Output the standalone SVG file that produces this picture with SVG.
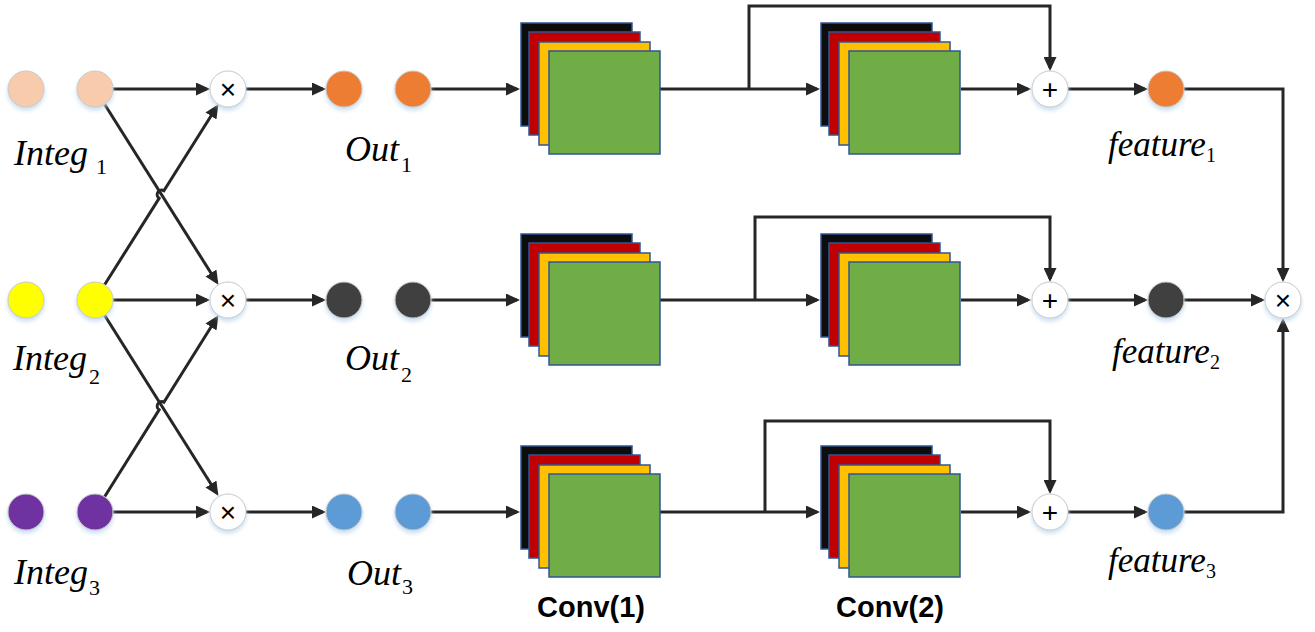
<svg xmlns="http://www.w3.org/2000/svg" xmlns:xlink="http://www.w3.org/1999/xlink" width="1315" height="632" viewBox="0 0 1315 632">
<style>
.ln{fill:none;stroke:#262626;stroke-width:3}
.ar{marker-end:url(#arr)}
.nd{stroke:#c9c9c9;stroke-width:1;filter:url(#sh)}
.op{fill:#ffffff}
.sym{font-family:"Liberation Sans",Arial,sans-serif;font-size:28px;fill:#000;text-anchor:middle}
.lab{font-family:"Liberation Serif","Times New Roman",serif;font-style:italic;font-size:36px;fill:#000}
.flab{font-family:"Liberation Serif","Times New Roman",serif;font-style:italic;font-size:35px;fill:#000}
.sub{font-family:"Liberation Serif","Times New Roman",serif;font-style:normal;font-size:22px;fill:#000}
.conv{font-family:"Liberation Sans",Arial,sans-serif;font-weight:bold;font-size:29px;fill:#000;text-anchor:middle}
.st{stroke:#2F5597;stroke-width:1.5}
</style>
<defs>
<marker id="arr" markerWidth="14" markerHeight="13" refX="11" refY="6.5" orient="auto" markerUnits="userSpaceOnUse">
<path d="M0,0 L14,6.5 L0,13 z" fill="#262626"/>
</marker>
<filter id="sh" x="-40%" y="-40%" width="180%" height="190%">
<feGaussianBlur in="SourceAlpha" stdDeviation="2"/>
<feOffset dy="3" result="b"/>
<feFlood flood-color="#bdd7ee" flood-opacity="0.8"/>
<feComposite in2="b" operator="in"/>
<feMerge><feMergeNode/><feMergeNode in="SourceGraphic"/></feMerge>
</filter>
<g id="stack">
<rect x="0" y="0" width="111" height="103" fill="#0D0D0D" class="st"/>
<rect x="8" y="9" width="111" height="103" fill="#C00000" class="st"/>
<rect x="18" y="19" width="111" height="103" fill="#FFC000" class="st"/>
<rect x="28" y="28" width="111" height="103" fill="#70AD47" class="st"/>
</g>
</defs>
<rect width="1315" height="632" fill="#ffffff"/>

<g id="connectors">
<!-- row 1 -->
<line class="ln ar" x1="113" y1="89" x2="207" y2="89"/>
<line class="ln ar" x1="246" y1="89" x2="323" y2="89"/>
<line class="ln ar" x1="431" y1="89" x2="517" y2="89"/>
<line class="ln ar" x1="660" y1="89" x2="817" y2="89"/>
<path class="ln ar" d="M749,89 V6 H1050 V68"/>
<line class="ln ar" x1="961" y1="89" x2="1028" y2="89"/>
<line class="ln ar" x1="1068" y1="89" x2="1145" y2="89"/>
<path class="ln ar" d="M1184,89 H1283 V279"/>
<!-- row 2 -->
<line class="ln ar" x1="113" y1="300" x2="207" y2="300"/>
<line class="ln ar" x1="246" y1="300" x2="323" y2="300"/>
<line class="ln ar" x1="431" y1="300" x2="517" y2="300"/>
<line class="ln ar" x1="660" y1="300" x2="817" y2="300"/>
<path class="ln ar" d="M755,300 V217 H1050 V279"/>
<line class="ln ar" x1="961" y1="300" x2="1028" y2="300"/>
<line class="ln ar" x1="1068" y1="300" x2="1145" y2="300"/>
<line class="ln ar" x1="1184" y1="300" x2="1262" y2="300"/>
<!-- row 3 -->
<line class="ln ar" x1="113" y1="512" x2="207" y2="512"/>
<line class="ln ar" x1="246" y1="512" x2="323" y2="512"/>
<line class="ln ar" x1="431" y1="512" x2="517" y2="512"/>
<line class="ln ar" x1="660" y1="512" x2="817" y2="512"/>
<path class="ln ar" d="M765,512 V421 H1050 V491"/>
<line class="ln ar" x1="961" y1="512" x2="1028" y2="512"/>
<line class="ln ar" x1="1068" y1="512" x2="1145" y2="512"/>
<path class="ln ar" d="M1184,512 H1283 V321"/>
<!-- crossings -->
<line class="ln ar" x1="104.6" y1="104.2" x2="216.8" y2="282.3"/>
<path class="ln ar" d="M104.6,284.8 L159.1,198.3 A4.5,4.5 0 0 1 163.9,190.7 L216.8,106.7"/>
<line class="ln ar" x1="104.6" y1="315.2" x2="216.8" y2="493.3"/>
<path class="ln ar" d="M104.6,496.8 L159.1,409.8 A4.5,4.5 0 0 1 163.9,402.2 L216.8,317.7"/>
</g>

<g id="integ1-a"><circle class="nd" cx="26" cy="89" r="18" fill="#F8CBAD"/></g>
<g id="integ1-b"><circle class="nd" cx="95" cy="89" r="18" fill="#F8CBAD"/></g>
<g id="integ2-a"><circle class="nd" cx="26" cy="300" r="18" fill="#FFFF00"/></g>
<g id="integ2-b"><circle class="nd" cx="95" cy="300" r="18" fill="#FFFF00"/></g>
<g id="integ3-a"><circle class="nd" cx="26" cy="512" r="18" fill="#7030A0"/></g>
<g id="integ3-b"><circle class="nd" cx="95" cy="512" r="18" fill="#7030A0"/></g>

<g id="mul1"><circle class="nd op" cx="228" cy="89" r="18"/><text class="sym" x="228" y="98.5">×</text></g>
<g id="mul2"><circle class="nd op" cx="228" cy="300" r="18"/><text class="sym" x="228" y="309.5">×</text></g>
<g id="mul3"><circle class="nd op" cx="228" cy="512" r="18"/><text class="sym" x="228" y="521.5">×</text></g>

<g id="out1-a"><circle class="nd" cx="344" cy="89" r="18" fill="#ED7D31"/></g>
<g id="out1-b"><circle class="nd" cx="413" cy="89" r="18" fill="#ED7D31"/></g>
<g id="out2-a"><circle class="nd" cx="344" cy="300" r="18" fill="#404040"/></g>
<g id="out2-b"><circle class="nd" cx="413" cy="300" r="18" fill="#404040"/></g>
<g id="out3-a"><circle class="nd" cx="344" cy="512" r="18" fill="#5B9BD5"/></g>
<g id="out3-b"><circle class="nd" cx="413" cy="512" r="18" fill="#5B9BD5"/></g>

<g id="conv1-row1" transform="translate(521,23)"><use xlink:href="#stack" href="#stack"/></g>
<g id="conv1-row2" transform="translate(521,234)"><use xlink:href="#stack" href="#stack"/></g>
<g id="conv1-row3" transform="translate(521,446)"><use xlink:href="#stack" href="#stack"/></g>
<g id="conv2-row1" transform="translate(821,23)"><use xlink:href="#stack" href="#stack"/></g>
<g id="conv2-row2" transform="translate(821,234)"><use xlink:href="#stack" href="#stack"/></g>
<g id="conv2-row3" transform="translate(821,446)"><use xlink:href="#stack" href="#stack"/></g>

<g id="add1"><circle class="nd op" cx="1050" cy="89" r="18"/><text class="sym" x="1050" y="98.5">+</text></g>
<g id="add2"><circle class="nd op" cx="1050" cy="300" r="18"/><text class="sym" x="1050" y="309.5">+</text></g>
<g id="add3"><circle class="nd op" cx="1050" cy="512" r="18"/><text class="sym" x="1050" y="521.5">+</text></g>

<g id="feature1"><circle class="nd" cx="1166" cy="89" r="18" fill="#ED7D31"/></g>
<g id="feature2"><circle class="nd" cx="1166" cy="300" r="18" fill="#404040"/></g>
<g id="feature3"><circle class="nd" cx="1166" cy="512" r="18" fill="#5B9BD5"/></g>

<g id="mulout"><circle class="nd op" cx="1283" cy="300" r="18"/><text class="sym" x="1283" y="309.5">×</text></g>

<g id="labels">
<text class="lab" x="14" y="165">Integ</text><text class="sub" x="96" y="174">1</text>
<text class="lab" x="13" y="370">Integ</text><text class="sub" x="89" y="384">2</text>
<text class="lab" x="14" y="584">Integ</text><text class="sub" x="89" y="595">3</text>
<text class="lab" x="345" y="161">Out</text><text class="sub" x="401" y="172">1</text>
<text class="lab" x="345" y="370">Out</text><text class="sub" x="401" y="382">2</text>
<text class="lab" x="347" y="585">Out</text><text class="sub" x="402" y="594">3</text>
<text class="flab" x="1108" y="156">feature</text><text class="sub" x="1206" y="162" style="font-size:20px">1</text>
<text class="flab" x="1112" y="363">feature</text><text class="sub" x="1210" y="369" style="font-size:20px">2</text>
<text class="flab" x="1108" y="572">feature</text><text class="sub" x="1206" y="578" style="font-size:20px">3</text>
<text class="conv" x="591" y="617">Conv(1)</text>
<text class="conv" x="890" y="617">Conv(2)</text>
</g>
</svg>
